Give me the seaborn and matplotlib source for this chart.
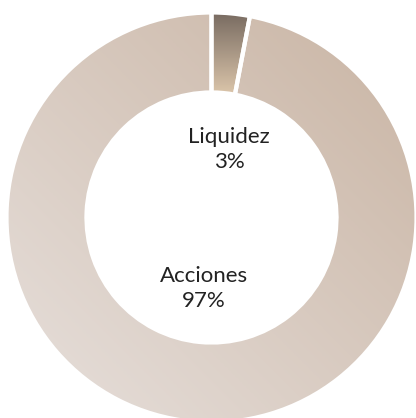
import matplotlib
matplotlib.use("Agg")
import matplotlib.pyplot as plt
import numpy as np
import seaborn as sns
from matplotlib.colors import LinearSegmentedColormap

# Data
categories = ["Liquidez", "Acciones"]
values = [3, 97]
labels = ["Liquidez\n3%", "Acciones\n97%"]

sns.set_theme(style="white")
plt.rcParams["font.family"] = ["Lato", "DejaVu Sans"]

fig = plt.figure(figsize=(4.16, 4.18), dpi=100)
ax = fig.add_axes([0, 0, 1, 1])

R = 1.0
width = 0.39
wedges, _ = ax.pie(values, startangle=90, counterclock=False, radius=R,
                   wedgeprops=dict(width=width, edgecolor="white", linewidth=3),
                   colors=["none", "none"])

# gradient fills clipped to the wedges
n = 300
xs = np.linspace(-1, 1, n)
X, Y = np.meshgrid(xs, xs)

cm_acc = LinearSegmentedColormap.from_list("acc", ["#e7e0dc", "#c9b4a3"])
grad_acc = (X + Y + 2) / 4
img = ax.imshow(grad_acc, cmap=cm_acc, extent=[-1, 1, -1, 1], origin="lower",
                zorder=0, interpolation="bilinear")
img.set_clip_path(wedges[1])

cm_liq = LinearSegmentedColormap.from_list("liq", ["#dcc6ab", "#786b61"])
grad_liq = np.clip((Y - 0.6) / 0.4, 0, 1)
img2 = ax.imshow(grad_liq, cmap=cm_liq, extent=[-1, 1, -1, 1], origin="lower",
                 zorder=0, interpolation="bilinear")
img2.set_clip_path(wedges[0])

for w in wedges:
    w.set_zorder(2)
    w.set_facecolor("none")

label_pos = [(0.085, 0.33), (-0.037, -0.345)]
for (x, y), lab in zip(label_pos, labels):
    ax.text(x, y, lab, ha="center", va="center", fontsize=16,
            color="#222222", linespacing=1.3)

cx, cy, rpx = 211.5, 217.5, 205.0
ax.set_xlim(-cx / rpx, (416 - cx) / rpx)
ax.set_ylim(-(418 - cy) / rpx, cy / rpx)
ax.set_aspect("equal")
ax.axis("off")

fig.savefig("out.png", dpi=100, facecolor="white")
